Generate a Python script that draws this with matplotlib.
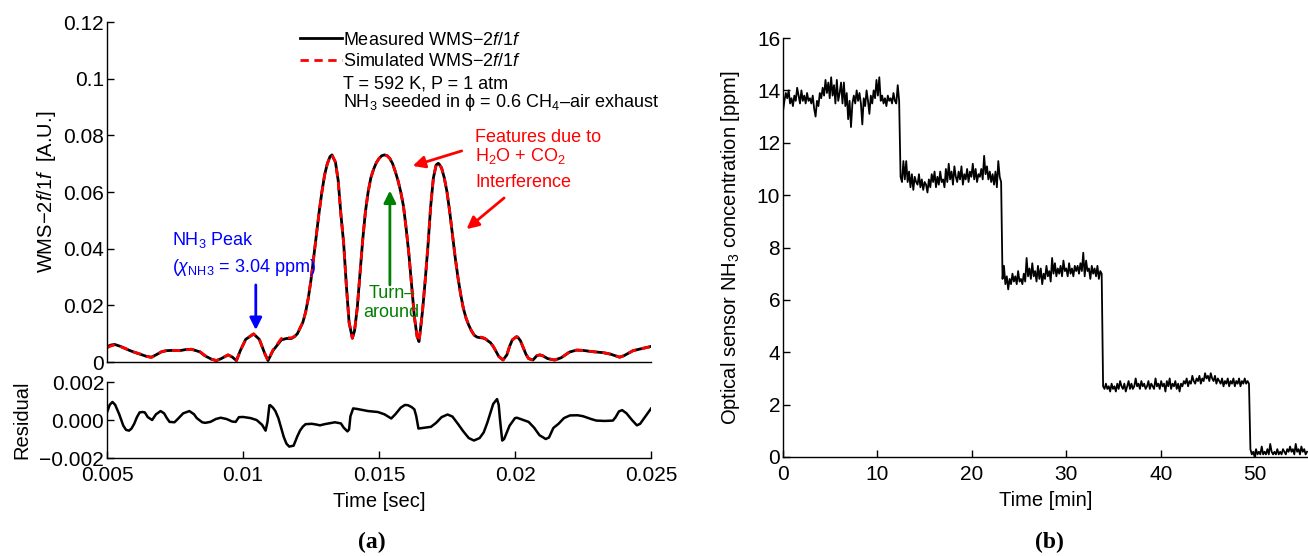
import numpy as np
import matplotlib
matplotlib.use("Agg")
import matplotlib.pyplot as plt

plt.rcParams['font.family'] = ['Liberation Sans', 'DejaVu Sans']
plt.rcParams['mathtext.fontset'] = 'custom'
plt.rcParams['mathtext.rm'] = 'Liberation Sans'
plt.rcParams['mathtext.it'] = 'Liberation Sans:italic'
plt.rcParams['mathtext.bf'] = 'Liberation Sans:bold'

# ---------------- panel (a) data ----------------
time_s = [0.0050, 0.00515, 0.00528, 0.0055, 0.0058, 0.00596, 0.0062, 0.00645, 0.00663, 0.0068,
          0.0070, 0.00718, 0.0074, 0.00767, 0.0079, 0.0081, 0.00841, 0.0086, 0.00884, 0.00902,
          0.0092, 0.00945, 0.0096, 0.00976, 0.0099, 0.0101, 0.01039, 0.0106, 0.0108, 0.01092,
          0.0111, 0.01141, 0.0116, 0.01178, 0.0119, 0.0120, 0.0121, 0.0122, 0.0123, 0.0124,
          0.0125, 0.0126, 0.0127, 0.0128, 0.0129, 0.0130, 0.0131, 0.0132, 0.01327, 0.0134,
          0.0135, 0.0136, 0.0137, 0.0138, 0.0139, 0.01402, 0.0141, 0.0142, 0.0143, 0.0144,
          0.0145, 0.0146, 0.0147, 0.0148, 0.0149, 0.0150, 0.0151, 0.0152, 0.0153, 0.0154,
          0.0155, 0.0156, 0.0157, 0.0158, 0.0159, 0.0160, 0.0161, 0.0162, 0.0163, 0.0164,
          0.01647, 0.0165, 0.0166, 0.0167, 0.0168, 0.0169, 0.0170, 0.0171, 0.01717, 0.0172,
          0.0173, 0.0174, 0.0175, 0.0176, 0.0177, 0.0178, 0.0179, 0.0180, 0.0181, 0.0182,
          0.0183, 0.0184, 0.0185, 0.0186, 0.0187, 0.0188, 0.0189, 0.0190, 0.0191, 0.0192,
          0.0193, 0.0194, 0.01956, 0.0197, 0.0198, 0.0199, 0.02005, 0.0201, 0.0202, 0.0203,
          0.0204, 0.0205, 0.02066, 0.0208, 0.02091, 0.0210, 0.0212, 0.02146, 0.0217, 0.0220,
          0.02226, 0.0225, 0.0228, 0.02324, 0.0235, 0.02385, 0.0240, 0.02434, 0.0246, 0.02495,
          0.0250]
wms_measured = [0.0054, 0.0060, 0.0062, 0.0055, 0.0042, 0.0036, 0.0028, 0.0020, 0.0017, 0.0025,
                0.0036, 0.0040, 0.0041, 0.0040, 0.0044, 0.0045, 0.0036, 0.0022, 0.0010, 0.0005,
                0.0012, 0.0025, 0.0018, 0.0005, 0.0040, 0.0080, 0.0099, 0.0080, 0.0030, 0.0005,
                0.0040, 0.0078, 0.0083, 0.0083, 0.0090, 0.0100, 0.0120, 0.0140, 0.0175, 0.0225,
                0.0290, 0.0370, 0.0450, 0.0530, 0.0600, 0.0660, 0.0700, 0.0725, 0.0731, 0.0705,
                0.0640, 0.0520, 0.0420, 0.0270, 0.0140, 0.0084, 0.0110, 0.0190, 0.0310, 0.0430,
                0.0530, 0.0600, 0.0650, 0.0680, 0.0703, 0.0718, 0.0728, 0.0731, 0.0728, 0.0718,
                0.0700, 0.0672, 0.0640, 0.0600, 0.0550, 0.0470, 0.0380, 0.0270, 0.0160, 0.0090,
                0.0072, 0.0095, 0.0180, 0.0290, 0.0410, 0.0550, 0.0650, 0.0695, 0.0701, 0.0700,
                0.0685, 0.0650, 0.0600, 0.0530, 0.0450, 0.0370, 0.0300, 0.0240, 0.0190, 0.0155,
                0.0130, 0.0110, 0.0095, 0.0088, 0.0086, 0.0085, 0.0082, 0.0075, 0.0068, 0.0055,
                0.0038, 0.0020, 0.0007, 0.0025, 0.0055, 0.0078, 0.0089, 0.0088, 0.0075, 0.0052,
                0.0028, 0.0012, 0.0007, 0.0022, 0.0025, 0.0023, 0.0012, 0.0007, 0.0015, 0.0035,
                0.0042, 0.0041, 0.0037, 0.0033, 0.0028, 0.0017, 0.0022, 0.0040, 0.0046, 0.0054,
                0.0055]
wms_simulated = [0.0050, 0.0057, 0.0060, 0.0054, 0.0043, 0.0036, 0.0029, 0.0020, 0.0016, 0.0024,
                 0.0036, 0.0040, 0.0041, 0.0040, 0.0043, 0.0045, 0.0037, 0.0023, 0.0010, 0.0005,
                 0.0012, 0.0025, 0.0018, 0.0005, 0.0040, 0.0080, 0.0099, 0.0080, 0.0030, 0.0005,
                 0.0042, 0.0083, 0.0086, 0.0085, 0.0091, 0.0100, 0.0120, 0.0140, 0.0175, 0.0225,
                 0.0290, 0.0370, 0.0450, 0.0530, 0.0600, 0.0660, 0.0700, 0.0725, 0.0731, 0.0705,
                 0.0640, 0.0520, 0.0420, 0.0270, 0.0140, 0.0084, 0.0110, 0.0190, 0.0310, 0.0430,
                 0.0530, 0.0600, 0.0650, 0.0680, 0.0703, 0.0718, 0.0728, 0.0731, 0.0728, 0.0718,
                 0.0700, 0.0672, 0.0640, 0.0600, 0.0550, 0.0470, 0.0380, 0.0270, 0.0160, 0.0090,
                 0.0072, 0.0095, 0.0180, 0.0290, 0.0410, 0.0550, 0.0650, 0.0695, 0.0701, 0.0700,
                 0.0685, 0.0650, 0.0600, 0.0530, 0.0450, 0.0370, 0.0300, 0.0240, 0.0190, 0.0155,
                 0.0130, 0.0110, 0.0095, 0.0089, 0.0088, 0.0087, 0.0083, 0.0076, 0.0068, 0.0055,
                 0.0038, 0.0020, 0.0007, 0.0025, 0.0055, 0.0078, 0.0089, 0.0088, 0.0075, 0.0052,
                 0.0028, 0.0012, 0.0007, 0.0022, 0.0025, 0.0023, 0.0012, 0.0007, 0.0015, 0.0035,
                 0.0042, 0.0041, 0.0037, 0.0033, 0.0028, 0.0017, 0.0022, 0.0040, 0.0046, 0.0053,
                 0.0054]

time_res = [0.0050, 0.0051, 0.0052, 0.0053, 0.00545, 0.0056, 0.0057, 0.00581, 0.0059, 0.0060,
            0.0061, 0.0062, 0.0063, 0.00639, 0.0065, 0.00666, 0.0068, 0.00697, 0.0071, 0.0072,
            0.0073, 0.00748, 0.0076, 0.0078, 0.00803, 0.0082, 0.0083, 0.0085, 0.00861, 0.0088,
            0.0090, 0.00918, 0.0094, 0.0096, 0.00973, 0.00985, 0.0100, 0.01028, 0.0105, 0.0107,
            0.01083, 0.0109, 0.01097, 0.0110, 0.0111, 0.01119, 0.0113, 0.0114, 0.0115, 0.0116,
            0.0117, 0.01186, 0.0120, 0.0121, 0.0122, 0.0123, 0.01253, 0.0127, 0.01283, 0.0130,
            0.01338, 0.0136, 0.0137, 0.01384, 0.0139, 0.01395, 0.01405, 0.0142, 0.01448, 0.0146,
            0.01496, 0.0152, 0.01545, 0.0156, 0.0158, 0.01595, 0.01606, 0.0162, 0.0163, 0.01637,
            0.01645, 0.0166, 0.01691, 0.0171, 0.0173, 0.01752, 0.0177, 0.0179, 0.0181, 0.0183,
            0.01849, 0.0187, 0.01885, 0.01898, 0.0191, 0.0192, 0.01934, 0.0194, 0.01945, 0.01953,
            0.0196, 0.0198, 0.0200, 0.02007, 0.0203, 0.0205, 0.0207, 0.0209, 0.02113, 0.02125,
            0.02141, 0.0216, 0.0218, 0.02202, 0.0223, 0.0225, 0.0228, 0.02299, 0.0233, 0.0236,
            0.0237, 0.02382, 0.02394, 0.0241, 0.0243, 0.02448, 0.0246, 0.0248, 0.0250]
residual = [0.00040, 0.00080, 0.00095, 0.00080, 0.00030, -0.00030, -0.00052, -0.00056, -0.00045, -0.00020,
            0.00015, 0.00040, 0.00042, 0.00040, 0.00015, 0.00000, 0.00030, 0.00047, 0.00035, 0.00010,
            -0.00010, -0.00012, 0.00005, 0.00035, 0.00047, 0.00030, 0.00010, -0.00012, -0.00015, -0.00010,
            0.00005, 0.00012, 0.00005, -0.00008, -0.00010, 0.00015, 0.00016, 0.00010, 0.00000, -0.00025,
            -0.00056, -0.00010, 0.00077, 0.00078, 0.00065, 0.00047, 0.00010, -0.00040, -0.00090, -0.00125,
            -0.00140, -0.00135, -0.00085, -0.00055, -0.00035, -0.00022, -0.00020, -0.00024, -0.00028, -0.00022,
            -0.00012, -0.00018, -0.00040, -0.00060, -0.00050, 0.00020, 0.00061, 0.00058, 0.00050, 0.00047,
            0.00042, 0.00030, 0.00008, 0.00030, 0.00065, 0.00079, 0.00078, 0.00068, 0.00056, 0.00020,
            -0.00045, -0.00042, -0.00036, -0.00015, 0.00015, 0.00029, 0.00018, -0.00020, -0.00060, -0.00095,
            -0.00108, -0.00095, -0.00065, -0.00015, 0.00040, 0.00085, 0.00110, 0.00080, 0.00000, -0.00108,
            -0.00100, -0.00030, 0.00010, 0.00012, 0.00000, -0.00010, -0.00040, -0.00080, -0.00100, -0.00092,
            -0.00042, -0.00020, 0.00010, 0.00024, 0.00025, 0.00020, 0.00005, -0.00003, -0.00005, -0.00003,
            0.00015, 0.00045, 0.00052, 0.00035, 0.00000, -0.00028, -0.00020, 0.00020, 0.00060]

# ---------------- panel (b) data ----------------
time_min_step = 0.15
conc_14ppm = [13.2, 13.6, 13.9, 13.7, 14.0, 13.5, 13.7, 13.4, 13.8, 13.6,
              14.1, 13.8, 13.5, 14.0, 13.6, 13.8, 13.5, 13.9, 13.6, 13.7,
              13.5, 13.8, 13.3, 13.0, 13.6, 13.4, 13.9, 13.7, 14.1, 13.8,
              14.4, 13.9, 14.3, 13.7, 14.5, 13.8, 14.2, 13.5, 14.4, 13.6,
              13.9, 14.3, 13.5, 14.3, 13.4, 13.9, 12.9, 13.6, 12.6, 13.5,
              13.8, 13.5, 14.0, 13.6, 13.9, 13.5, 12.7, 13.7, 13.4, 14.0,
              13.6, 13.1, 13.8, 13.5, 14.0, 13.7, 14.4, 13.8, 14.5, 13.6,
              13.8, 13.5, 13.7, 13.4, 13.8, 13.6, 13.7, 13.5, 13.9, 13.6,
              13.5, 14.2, 13.6]
conc_11ppm = [10.7, 10.5, 11.3, 10.6, 11.3, 10.5, 10.9, 10.3, 10.8, 10.2,
              10.7, 10.5, 10.4, 10.8, 10.3, 10.6, 10.2, 10.5, 10.4, 10.1,
              10.6, 10.3, 10.8, 10.5, 10.9, 10.3, 10.7, 10.4, 10.9, 10.5,
              10.6, 10.3, 11.0, 10.5, 11.2, 10.6, 10.9, 10.4, 11.1, 10.7,
              10.5, 10.9, 10.6, 11.1, 10.4, 10.8, 10.6, 11.0, 10.5, 10.9,
              10.7, 11.2, 10.6, 11.0, 10.5, 10.8, 10.7, 11.0, 10.6, 11.5,
              10.8, 11.1, 10.6, 10.9, 10.5, 10.8, 10.4, 10.9, 10.3, 11.3, 10.7, 10.5]
conc_7ppm = [6.8, 7.3, 6.6, 6.9, 6.4, 6.8, 6.6, 7.0, 6.7, 6.9,
             6.6, 7.1, 6.7, 6.8, 6.6, 7.0, 6.7, 7.6, 6.9, 7.2,
             6.8, 7.4, 6.9, 7.1, 6.7, 7.3, 6.8, 7.2, 6.6, 7.0,
             6.8, 7.3, 6.9, 7.1, 6.7, 7.6, 7.0, 7.4, 6.9, 7.2,
             7.0, 7.3, 6.9, 7.5, 7.1, 7.2, 6.9, 7.4, 7.0, 7.2,
             6.9, 7.3, 7.1, 7.3, 7.0, 7.4, 7.1, 7.8, 6.9, 7.5,
             7.1, 7.2, 6.8, 7.3, 7.0, 7.2, 6.9, 7.3, 6.8, 7.1, 7.0]
conc_3ppm = [2.7, 2.6, 2.8, 2.6, 2.7, 2.5, 2.8, 2.6, 2.7, 2.5,
             2.8, 2.6, 2.9, 2.7, 2.6, 2.8, 2.5, 2.7, 2.9, 2.6,
             2.8, 2.6, 2.7, 3.0, 2.7, 2.8, 2.6, 2.9, 2.7, 2.8,
             2.6, 2.7, 2.9, 2.6, 2.8, 2.7, 2.6, 3.0, 2.7, 2.8,
             2.6, 2.9, 2.7, 2.8, 2.5, 2.9, 2.7, 3.0, 2.6, 2.8,
             2.7, 2.9, 2.6, 2.8, 2.5, 2.8, 2.7, 2.9, 2.8, 3.0,
             2.7, 2.9, 2.8, 3.1, 2.9, 2.8, 3.0, 2.9, 3.1, 2.8,
             3.0, 2.9, 3.2, 3.0, 3.1, 2.9, 3.2, 3.0, 2.9, 3.1,
             2.8, 3.0, 2.9, 2.8, 3.0, 2.7, 2.9, 2.8, 3.0, 2.7,
             2.9, 2.8, 3.0, 2.7, 2.9, 2.8, 3.0, 2.7, 2.9, 2.8,
             3.0, 2.8, 2.9, 2.8]
conc_0ppm = [0.3, 0.1, 0.2, 0.0, 0.3, 0.1, 0.2, 0.1, 0.4, 0.1,
             0.2, 0.1, 0.3, 0.1, 0.5, 0.2, 0.1, 0.2, 0.1, 0.3,
             0.1, 0.2, 0.1, 0.3, 0.2, 0.1, 0.3, 0.2, 0.4, 0.2,
             0.3, 0.1, 0.5, 0.2, 0.3, 0.1, 0.4, 0.2, 0.3, 0.1, 0.2]

conc = np.array(conc_14ppm + conc_11ppm + conc_7ppm + conc_3ppm + conc_0ppm)
time_min = np.arange(len(conc)) * time_min_step

# ---------------- figure ----------------
W, H = 1308, 556
fig = plt.figure(figsize=(W / 100, H / 100), dpi=100)

def box(x0, x1, ytop, ybot):
    return [x0 / W, 1 - ybot / H, (x1 - x0) / W, (ybot - ytop) / H]

TICK_FS = 15
LABEL_FS = 14.5
TEXT_FS = 13
ax1 = fig.add_axes(box(107, 651, 22, 362))
ax2 = fig.add_axes(box(107, 651, 382, 458))
ax3 = fig.add_axes(box(783, 1308, 38, 457))

for ax in (ax1, ax2, ax3):
    ax.spines['top'].set_visible(False)
    ax.spines['right'].set_visible(False)
    for s in ('left', 'bottom'):
        ax.spines[s].set_linewidth(1.0)
    ax.tick_params(direction='in', length=5, width=1.0, labelsize=TICK_FS)
    ax.tick_params(axis='y', pad=2)
    ax.tick_params(axis='x', pad=6)

# top-left
ax1.plot(time_s, wms_measured, color='black', lw=2.0, label='Measured WMS$-$2$\\it{f}$/1$\\it{f}$')
ax1.plot(time_s, wms_simulated, color='red', lw=2.0, ls=(0, (3.0, 2.0)), label='Simulated WMS$-$2$\\it{f}$/1$\\it{f}$')
ax1.set_xlim(0.005, 0.025)
ax1.set_ylim(0, 0.12)
ax1.set_yticks([0, 0.02, 0.04, 0.06, 0.08, 0.1, 0.12])
ax1.set_yticklabels(['0', '0.02', '0.04', '0.06', '0.08', '0.1', '0.12'])
ax1.tick_params(axis='x', length=0, labelbottom=False)
ax1.set_ylabel('WMS$-$2$\\it{f}$/1$\\it{f}$  [A.U.]', fontsize=LABEL_FS, labelpad=4)

leg = ax1.legend(loc='upper left', bbox_to_anchor=(0.355, 0.972), frameon=False, fontsize=TEXT_FS,
                 handlelength=2.3, handletextpad=0.1, borderaxespad=0, borderpad=0, labelspacing=0.25)
ax1.text(0.434, 0.818, 'T = 592 K, P = 1 atm', transform=ax1.transAxes, fontsize=TEXT_FS, va='center', ha='left')
ax1.text(0.434, 0.762, 'NH$_3$ seeded in \u03d5 = 0.6 CH$_4$\u2013air exhaust', transform=ax1.transAxes,
         fontsize=TEXT_FS, va='center', ha='left')

# annotations
ax1.text(0.00739, 0.0431, 'NH$_3$ Peak', color='blue', fontsize=TEXT_FS, va='center', ha='left')
ax1.text(0.00739, 0.0335, '($\\chi_{\\rm NH3}$ = 3.04 ppm)', color='blue', fontsize=TEXT_FS, va='center', ha='left')
ax1.annotate('', xy=(0.01047, 0.0113), xytext=(0.01047, 0.0272),
             arrowprops=dict(arrowstyle='-|>', color='blue', lw=2, mutation_scale=18, shrinkA=0, shrinkB=0))
ax1.annotate('', xy=(0.0154, 0.0605), xytext=(0.0154, 0.0272),
             arrowprops=dict(arrowstyle='-|>', color='green', lw=2, mutation_scale=18, shrinkA=0, shrinkB=0))
ax1.text(0.01547, 0.0208, 'Turn\u2013\naround', color='green', fontsize=TEXT_FS, ha='center', va='center', linespacing=1.1)
ax1.text(0.01854, 0.0791, 'Features due to', color='red', fontsize=TEXT_FS, va='center', ha='left')
ax1.text(0.01854, 0.0727, 'H$_2$O + CO$_2$', color='red', fontsize=TEXT_FS, va='center', ha='left')
ax1.text(0.01854, 0.0632, 'Interference', color='red', fontsize=TEXT_FS, va='center', ha='left')
ax1.annotate('', xy=(0.01624, 0.0692), xytext=(0.01804, 0.0745),
             arrowprops=dict(arrowstyle='-|>', color='red', lw=2, mutation_scale=18, shrinkA=0, shrinkB=0))
ax1.annotate('', xy=(0.01822, 0.0469), xytext=(0.0196, 0.0579),
             arrowprops=dict(arrowstyle='-|>', color='red', lw=2, mutation_scale=18, shrinkA=0, shrinkB=0))

# residual
ax2.plot(time_res, residual, color='black', lw=1.8)
ax2.set_xlim(0.005, 0.025)
ax2.set_ylim(-0.002, 0.002)
ax2.set_yticks([-0.002, 0.0, 0.002])
ax2.set_yticklabels(['\u22120.002', '0.000', '0.002'])
ax2.set_xticks([0.005, 0.01, 0.015, 0.02, 0.025])
ax2.set_xticklabels(['0.005', '0.01', '0.015', '0.02', '0.025'])
ax2.set_ylabel('Residual', fontsize=LABEL_FS, labelpad=6)
ax2.set_xlabel('Time [sec]', fontsize=LABEL_FS, labelpad=5)

# right panel
ax3.plot(time_min, conc, color='black', lw=1.3)
ax3.set_xlim(0, 55.6)
ax3.set_ylim(0, 16)
ax3.set_yticks(np.arange(0, 17, 2))
ax3.set_xticks(np.arange(0, 51, 10))
ax3.set_xlabel('Time [min]', fontsize=LABEL_FS, labelpad=5)
ax3.set_ylabel('Optical sensor NH$_3$ concentration [ppm]', fontsize=LABEL_FS, labelpad=11)

fig.text(372 / W, 1 - 542 / H, '(a)', fontsize=17, fontweight='bold', family='Liberation Serif', ha='center', va='center')
fig.text(1049 / W, 1 - 542 / H, '(b)', fontsize=17, fontweight='bold', family='Liberation Serif', ha='center', va='center')

fig.savefig('out.png', dpi=100)
